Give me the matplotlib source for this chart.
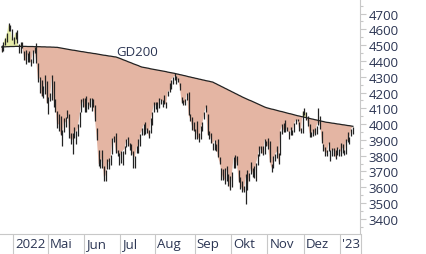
import matplotlib
matplotlib.use("Agg")
from matplotlib import pyplot as plt
from matplotlib.transforms import blended_transform_factory, offset_copy
import numpy as np

# S&P 500 daily bars, 23.03.2022 - 12.01.2023 (one entry per trading day)
high = [4501, 4520, 4546, 4576, 4637, 4628, 4603,
        4550, 4583, 4593, 4504, 4521, 4521, 4464, 4471, 4453, 4460, 4410, 4471, 4488, 4512, 4386, 4299, 4278, 4240, 4309, 4270,
        4169, 4200, 4308, 4270, 4158, 4082, 4066, 4050, 3965, 4039, 4046, 4091, 4063, 3946, 3944, 3981, 3955, 3999, 4075, 4158, 4168,
        4166, 4177, 4142, 4168, 4164, 4160, 4120, 3974, 3838, 3778, 3838, 3732, 3707, 3780, 3787, 3802, 3913, 3927, 3946, 3837, 3818,
        3829, 3832, 3863, 3906, 3919, 3880, 3873, 3829, 3796, 3864, 3903, 3938, 3975, 3999, 4012, 3975, 3961, 4040, 4078, 4140,
        4141, 4140, 4168, 4161, 4151, 4186, 4138, 4212, 4258, 4280, 4301, 4325, 4302, 4293, 4259, 4169, 4150, 4156, 4199, 4204, 4062, 4044, 4016,
        3970, 4018, 3942, 3987, 4011, 4077, 4120, 4062, 3959, 3946, 3880, 3900, 3876, 3907, 3791, 3720, 3715, 3720, 3736, 3687, 3672,
        3698, 3792, 3807, 3797, 3711, 3665, 3641, 3607, 3685, 3712, 3689, 3762, 3719, 3736, 3753, 3810, 3862, 3863, 3859, 3905, 3893,
        3911, 3894, 3750, 3796, 3813, 3860, 3818, 3958, 4002, 4008, 4029, 3983, 3955, 3979, 3962, 4004, 4034, 4034, 4013, 3976, 4080,
        4101, 4076, 4052, 4001, 3951, 3968, 3977, 3991, 4101, 4053, 3958, 3876, 3855, 3839, 3889, 3839, 3846, 3846, 3837, 3858, 3840,
        3879, 3874, 3836, 3906, 3951, 3919, 3970, 3984]
low = [4455, 4465, 4501, 4517, 4589, 4589, 4530,
       4507, 4539, 4515, 4452, 4450, 4484, 4408, 4381, 4395, 4392, 4370, 4386, 4449, 4385, 4268, 4200, 4175, 4167, 4188, 4131,
       4062, 4144, 4151, 4107, 4077, 3975, 3958, 3929, 3859, 3953, 3984, 4038, 3912, 3877, 3810, 3909, 3875, 3926, 3984, 4077, 4107,
       4074, 4074, 4098, 4109, 4080, 4107, 4017, 3900, 3735, 3721, 3723, 3640, 3637, 3715, 3716, 3743, 3809, 3889, 3820, 3800, 3739,
       3752, 3742, 3812, 3855, 3861, 3839, 3802, 3721, 3722, 3818, 3819, 3860, 3929, 3933, 3938, 3946, 3911, 3941, 3992, 4079,
       4096, 4079, 4101, 4129, 4108, 4128, 4104, 4177, 4201, 4219, 4256, 4277, 4253, 4265, 4218, 4132, 4124, 4119, 4150, 4058, 4018, 3965, 3954,
       3903, 3907, 3887, 3907, 3954, 4030, 4077, 3933, 3903, 3880, 3838, 3838, 3827, 3790, 3749, 3647, 3645, 3623, 3640, 3610, 3584,
       3604, 3722, 3722, 3738, 3632, 3588, 3568, 3573, 3492, 3584, 3642, 3687, 3667, 3657, 3641, 3742, 3800, 3817, 3804, 3809, 3863,
       3844, 3759, 3699, 3722, 3764, 3786, 3747, 3807, 3940, 3949, 3953, 3955, 3907, 3933, 3933, 3947, 3999, 4020, 3956, 3943, 3941,
       4058, 4027, 3985, 3919, 3917, 3926, 3933, 3936, 3994, 3966, 3880, 3827, 3800, 3796, 3828, 3764, 3800, 3798, 3781, 3805, 3800,
       3795, 3815, 3803, 3809, 3887, 3877, 3924, 3938]
close = [4456, 4520, 4543, 4575, 4632, 4602, 4530,
         4546, 4583, 4525, 4481, 4500, 4488, 4413, 4397, 4447, 4392, 4391, 4463, 4459, 4394, 4272, 4296, 4175, 4183, 4288, 4132,
         4155, 4175, 4300, 4147, 4123, 3991, 4001, 3935, 3930, 4024, 4008, 4088, 3923, 3901, 3901, 3974, 3941, 3979, 4058, 4158, 4132,
         4101, 4177, 4109, 4121, 4161, 4116, 4018, 3901, 3750, 3735, 3790, 3667, 3675, 3765, 3760, 3796, 3912, 3900, 3821, 3819, 3785,
         3825, 3831, 3845, 3903, 3899, 3855, 3819, 3801, 3790, 3863, 3831, 3937, 3960, 3999, 3962, 3967, 3921, 4024, 4073, 4130,
         4119, 4091, 4155, 4152, 4145, 4140, 4122, 4210, 4207, 4280, 4297, 4305, 4275, 4284, 4228, 4138, 4128, 4141, 4199, 4058, 4031, 3986, 3955,
         3967, 3924, 3908, 3980, 4006, 4067, 4110, 3933, 3946, 3901, 3873, 3900, 3856, 3790, 3758, 3693, 3655, 3647, 3719, 3640, 3586,
         3678, 3791, 3783, 3745, 3640, 3612, 3589, 3577, 3670, 3583, 3677, 3720, 3695, 3666, 3753, 3797, 3859, 3831, 3808, 3901, 3872,
         3857, 3760, 3720, 3771, 3807, 3828, 3749, 3956, 3993, 3957, 3992, 3959, 3947, 3965, 3950, 4003, 4027, 4026, 3964, 3958, 4080,
         4076, 4072, 3999, 3941, 3933, 3964, 3934, 3991, 4019, 3996, 3896, 3852, 3817, 3821, 3879, 3822, 3845, 3829, 3783, 3849, 3840,
         3824, 3853, 3808, 3895, 3893, 3919, 3970, 3983]
# 200-day average (GD200)
gd200 = [4488, 4489, 4489, 4490, 4490, 4491, 4491, 4491, 4492, 4492, 4492,
         4492, 4492, 4492, 4492, 4491, 4491, 4491, 4491, 4490, 4490, 4490, 4490, 4489, 4489, 4489, 4488, 4488, 4488, 4487, 4487, 4486, 4486,
         4484, 4482, 4480, 4478, 4476, 4474, 4472,
         4470, 4468, 4467, 4465, 4463, 4461, 4459, 4458, 4456, 4454, 4452, 4451, 4449, 4447, 4446, 4444,
         4442, 4440, 4438, 4436, 4435, 4433, 4431, 4430, 4428, 4426, 4425,
         4421, 4417, 4413, 4408, 4404, 4400, 4395, 4391, 4387, 4382, 4378, 4374, 4370, 4365, 4361,
         4359, 4357, 4355, 4353, 4350, 4348, 4346, 4344, 4342, 4340, 4338, 4336, 4334, 4332, 4329, 4327, 4325, 4323,
         4321, 4318, 4316, 4313, 4311, 4308, 4306, 4303, 4300, 4298, 4295, 4293, 4290, 4288, 4285,
         4283, 4280, 4278, 4275, 4273, 4271, 4268, 4266,
         4260, 4255, 4249, 4244, 4238, 4233, 4227, 4222, 4216, 4211, 4205, 4200, 4194, 4189, 4183, 4178, 4172,
         4167, 4162, 4157, 4152, 4148, 4143, 4138, 4133, 4128, 4123, 4118, 4113, 4108, 4104,
         4101, 4098, 4095, 4093, 4090, 4087, 4084, 4081, 4079, 4076, 4073, 4070, 4067, 4065, 4062, 4059, 4056, 4053, 4051,
         4048, 4046, 4043, 4041, 4038, 4036, 4033, 4031, 4028, 4026, 4023, 4021, 4018, 4016, 4013,
         4011, 4010, 4008, 4006, 4005, 4003, 4001, 4000, 3998, 3996, 3995, 3993, 3991, 3990, 3988, 3986]

# trading days per month (Mar 2022 partial ... Jan 2023 partial)
month_days = [7, 20, 21, 21, 20, 23, 21, 21, 21, 21, 8]
month_labels = ["2022", "Mai", "Jun", "Jul", "Aug", "Sep", "Okt", "Nov", "Dez", "'23"]
yticks = [3400, 3500, 3600, 3700, 3800, 3900, 4000, 4100, 4200, 4300, 4400, 4500, 4600, 4700]

plt.rcParams['font.family'] = ['Open Sans', 'DejaVu Sans']
txt_col = "#2b3553"
grey = "#c8c8c8"

x = np.arange(len(close))
c = np.array(close, dtype=float)
g = np.array(gd200, dtype=float)

fig = plt.figure(figsize=(4.26, 2.55), dpi=100)
ax = fig.add_axes([0, 20 / 255, 360 / 426, 235 / 255])

ax.fill_between(x, c, g, where=c >= g, interpolate=True, color="#e5eba8", lw=0)
ax.fill_between(x, c, g, where=c < g, interpolate=True, color="#e4b5a3", lw=0)
ax.plot(x, g, color="#222222", lw=0.9)
ax.vlines(x, low, high, color="#222222", lw=0.9)
ax.text(78, 4458, "GD200", color=txt_col, fontsize=9.5, ha="center", va="center")

ax.set_xlim(-1.0, 207.1)
ax.set_ylim(3304.4, 4791.8)

# month separators
seps = np.cumsum(month_days)[:-1] - 0.5
ax.set_xticks(seps)
ax.set_xticklabels([])
ax.tick_params(axis="x", direction="out", length=14.4, width=0.8, color=grey)
trans = offset_copy(blended_transform_factory(ax.transData, ax.transAxes), fig=fig, x=2, y=-10, units="dots")
for s, lab in zip(seps, month_labels):
    ax.text(s, 0, lab, transform=trans, fontsize=9.5, color=txt_col, ha="left", va="center")

ax.yaxis.tick_right()
ax.set_yticks(yticks)
ax.set_yticks(np.arange(3350, 4800, 50), minor=True)
ax.tick_params(axis="y", which="major", length=4.3, width=0.8, color=grey, labelcolor=txt_col, labelsize=9.5, pad=2)
ax.tick_params(axis="y", which="minor", length=2.2, width=0.8, color=grey)

for sp in ["top", "left"]:
    ax.spines[sp].set_visible(False)
ax.spines["right"].set_color(grey)
ax.spines["bottom"].set_color(grey)
fig.add_artist(plt.Line2D([360.5 / 426, 360.5 / 426], [0, 20 / 255], color=grey, lw=0.8))

fig.savefig("out.png", dpi=100)
